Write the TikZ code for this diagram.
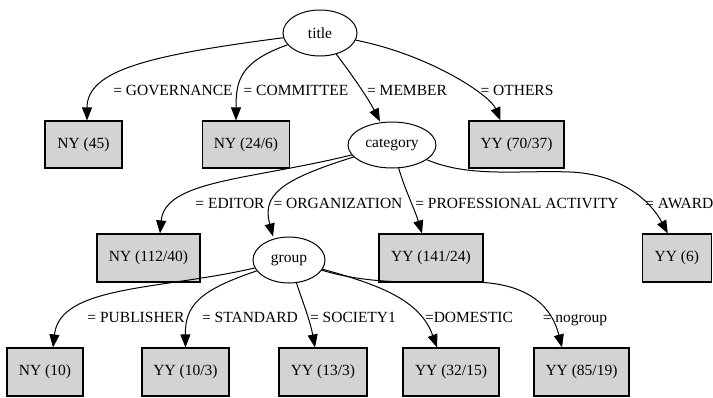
\documentclass[tikz,border=0pt]{standalone}
\usepackage{fontspec}
\setmainfont{Liberation Serif}
\newfontfamily\gvfont{Liberation Serif}
\usetikzlibrary{arrows.meta,shapes.geometric}
\definecolor{boxgray}{RGB}{211,211,211}
\tikzset{
  ell/.style={draw, ellipse, line width=1pt, inner sep=0pt},
  leaf/.style={draw, fill=boxgray, line width=1.1pt, inner sep=0pt},
  edge/.style={line width=1pt, -{Triangle[length=13pt,width=10pt]}},
  lab/.style={anchor=base, inner sep=0pt},
  every node/.style={font=\gvfont\fontsize{15.5}{18}\selectfont}
}
\begin{document}
\begin{tikzpicture}[x=1pt,y=-1pt]
\useasboundingbox (0,0) rectangle (713,397);
% inner nodes
\node[ell, minimum width=74pt, minimum height=46pt] (title) at (320,33) {title};
\node[ell, minimum width=88pt, minimum height=46pt] (cat) at (392,145) {category};
\node[ell, minimum width=72pt, minimum height=46pt] (grp) at (289,260) {group};
% leaves level 1
\node[leaf, minimum width=77pt, minimum height=47pt] (n1) at (83.5,144.5) {NY (45)};
\node[leaf, minimum width=87pt, minimum height=47pt] (n2) at (246,144.5) {NY (24/6)};
\node[leaf, minimum width=95pt, minimum height=47pt] (n3) at (516.5,144.5) {YY (70/37)};
% leaves level 2
\node[leaf, minimum width=103pt, minimum height=48pt] (n4) at (148.5,258) {NY (112/40)};
\node[leaf, minimum width=104pt, minimum height=48pt] (n5) at (431,258) {YY (141/24)};
\node[leaf, minimum width=69pt, minimum height=48pt] (n6) at (676.8,258) {YY (6)};
% leaves level 3
\node[leaf, minimum width=76pt, minimum height=48pt] (n7) at (45,372) {NY (10)};
\node[leaf, minimum width=87pt, minimum height=48pt] (n8) at (185.5,372) {YY (10/3)};
\node[leaf, minimum width=88pt, minimum height=48pt] (n9) at (323,372) {YY (13/3)};
\node[leaf, minimum width=96pt, minimum height=48pt] (n10) at (451,372) {YY (32/15)};
\node[leaf, minimum width=95pt, minimum height=48pt] (n11) at (581.5,372) {YY (85/19)};
% helper coordinates
\coordinate (k1) at (570,172);
\coordinate (k2) at (470,282);
% edges from title
\draw[edge] (title) .. controls (150,55) and (87,70) .. ([xshift=3.5pt]n1.north);
\draw[edge] (title) .. controls (240,62) and (236,80) .. ([xshift=-10pt]n2.north);
\draw[edge] (title) .. controls (350,72) and (368,98) .. ([xshift=-12pt]cat.north);
\draw[edge] (title) .. controls (430,55) and (490,95) .. ([xshift=-16pt]n3.north);
% edges from category
\draw[edge] (cat) .. controls (250,180) and (165,180) .. ([xshift=11.5pt]n4.north);
\draw[edge] (cat) .. controls (280,180) and (262,195) .. ([xshift=-16pt]grp.north);
\draw[edge] (cat) .. controls (405,190) and (415,210) .. ([xshift=-9pt]n5.north);
\draw[edge] (cat) .. controls (470,178) and (520,170) .. (k1) .. controls (620,174) and (650,200) .. ([xshift=-9pt]n6.north);
% edges from group
\draw[edge] (grp) .. controls (160,290) and (60,285) .. ([xshift=8pt]n7.north);
\draw[edge] (grp) .. controls (200,290) and (185,305) .. (n8.north);
\draw[edge] (grp) .. controls (302,300) and (310,320) .. ([xshift=-8pt]n9.north);
\draw[edge] (grp) .. controls (380,285) and (420,300) .. ([xshift=-14pt]n10.north);
\draw[edge] (grp) .. controls (370,285) and (420,282) .. (k2) .. controls (520,282) and (550,300) .. ([xshift=-19.5pt]n11.north);
% edge labels
\node[lab] (l1) at (173,95) {= GOVERNANCE};
\node[lab] (l2) at (296,95) {= COMMITTEE};
\node[lab] (l3) at (407,95) {= MEMBER};
\node[lab] (l4) at (517,95) {= OTHERS};
\node[lab] (l5) at (230,208) {= EDITOR};
\node[lab] (l6) at (338,208) {= ORGANIZATION};
\node[lab] (l7) at (517,208) {= PROFESSIONAL ACTIVITY};
\node[lab, anchor=base west] (l8) at (645,208) {= AWARD};
\node[lab] (l9) at (136,322) {= PUBLISHER};
\node[lab] (l10) at (250,322) {= STANDARD};
\node[lab] (l11) at (353,322) {= SOCIETY1};
\node[lab] (l12) at (469,322) {=DOMESTIC};
\node[lab] (l13) at (575,322) {= nogroup};
\end{tikzpicture}
\end{document}
